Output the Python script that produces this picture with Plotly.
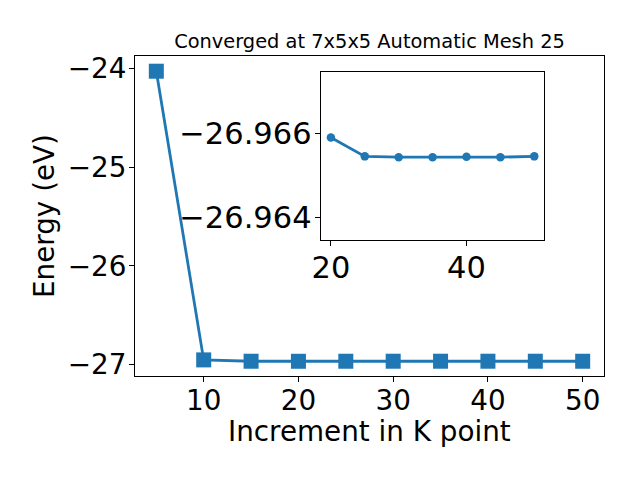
import plotly.graph_objects as go

# Main series
k_points = [5, 10, 15, 20, 25, 30, 35, 40, 45, 50]
energy = [-24.03, -26.952, -26.9655, -26.9659, -26.96545, -26.96543, -26.96543, -26.96544, -26.96543, -26.96545]

# Inset series
inset_k = [20, 25, 30, 35, 40, 45, 50]
inset_energy = [-26.96590, -26.96545, -26.96543, -26.96543, -26.96544, -26.96543, -26.96545]

main_xticks = [10, 20, 30, 40, 50]
main_xlabels = ["10", "20", "30", "40", "50"]
main_yticks = [-24, -25, -26, -27]
main_ylabels = ["\u221224", "\u221225", "\u221226", "\u221227"]
inset_xticks = [20, 40]
inset_xlabels = ["20", "40"]
inset_yticks = [-26.966, -26.964]
inset_ylabels = ["\u221226.966", "\u221226.964"]

title_text = "Converged at 7x5x5 Automatic Mesh 25"
xlabel = "Increment in K point"
ylabel = "Energy (eV)"

color = "#1f77b4"
FONT = "DejaVu Sans"
TICK = 27.8
INSET_TICK = 30.5

# The page body adds an 8px offset; figure is sized to fit the window.
W, H = 632, 472
OFF = 8
L, R, T, B = 135 - OFF, 640 - 604, 56 - OFF, 480 - 376  # screen edges of main axes

fig = go.Figure()
fig.add_trace(go.Scatter(
    x=k_points, y=energy, mode="lines+markers",
    line=dict(color=color, width=2.8),
    marker=dict(symbol="square", size=15, color=color),
    xaxis="x", yaxis="y", showlegend=False,
))
fig.add_trace(go.Scatter(
    x=inset_k, y=inset_energy, mode="lines+markers",
    line=dict(color=color, width=2.8),
    marker=dict(symbol="circle", size=8.5, color=color),
    xaxis="x2", yaxis="y2", showlegend=False,
))


def axis_common(size, standoff):
    return dict(
        showgrid=False, zeroline=False, showline=True, linecolor="black",
        linewidth=1.1, mirror=True, ticks="outside", ticklen=5, tickwidth=1.1,
        tickcolor="black", tickfont=dict(family=FONT, size=size, color="black"),
        tickmode="array", automargin=False, ticklabelstandoff=standoff,
    )


def sx(px):  # screen x -> paper-fraction of figure
    return (px - OFF) / W


def sy(py):  # screen y -> container fraction (from bottom)
    return 1 - (py - OFF) / H


fig.update_layout(
    width=W, height=H,
    margin=dict(l=L, r=R, t=T, b=B, autoexpand=False),
    paper_bgcolor="white", plot_bgcolor="white",
    font=dict(family=FONT, color="black"),
    title=dict(text=title_text, font=dict(family=FONT, size=19.4, color="black"),
               x=sx((135 + 604) / 2), xanchor="center",
               y=sy(41.7), yanchor="middle", yref="container"),
    xaxis=dict(axis_common(TICK, -5), domain=[0, 1], range=[2.75, 52.25],
               tickvals=main_xticks, ticktext=main_xlabels),
    yaxis=dict(axis_common(TICK, -3), domain=[0, 1], range=[-27.115, -23.876],
               tickvals=main_yticks, ticktext=main_ylabels),
    xaxis2=dict(axis_common(INSET_TICK, -5), domain=[0.396, 0.873], anchor="y2",
                range=[18.5, 51.5], tickvals=inset_xticks, ticktext=inset_xlabels),
    yaxis2=dict(axis_common(INSET_TICK, -3), domain=[0.425, 0.949], anchor="x2",
                range=[-26.96346, -26.96745],
                tickvals=inset_yticks, ticktext=inset_ylabels),
    annotations=[
        dict(text=xlabel, xref="paper", yref="paper", showarrow=False,
             x=0.5, y=-(431 - 376) / 320, xanchor="center", yanchor="middle",
             font=dict(family=FONT, size=TICK, color="black")),
        dict(text=ylabel, xref="paper", yref="paper", showarrow=False, textangle=-90,
             x=-(135 - 44) / 469, y=0.5, xanchor="center", yanchor="middle",
             font=dict(family=FONT, size=TICK, color="black")),
    ],
)

fig.write_html("out.html")
